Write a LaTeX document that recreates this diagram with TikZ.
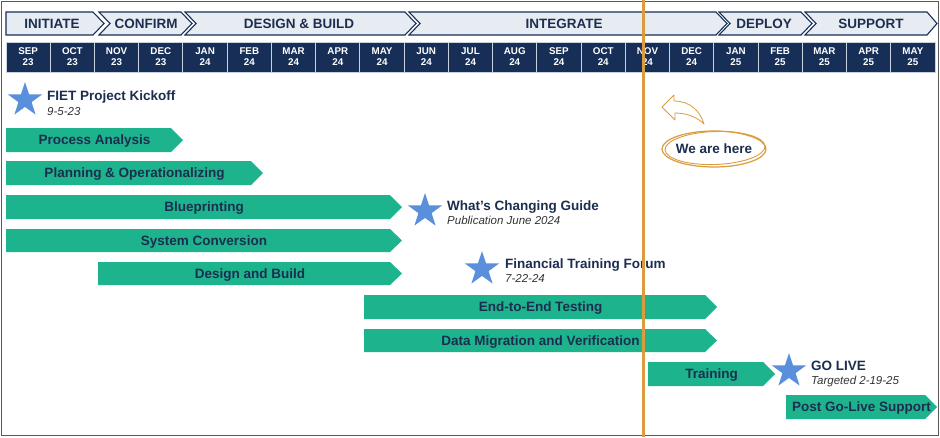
\documentclass[tikz,border=0pt]{standalone}
\usepackage{fontspec}
\setmainfont{Liberation Sans}
\usetikzlibrary{shapes.geometric}
\definecolor{navy}{HTML}{172F57}
\definecolor{txtnavy}{HTML}{1C2E4F}
\definecolor{barg}{HTML}{1DB38C}
\definecolor{starb}{HTML}{5A8FDB}
\definecolor{orng}{HTML}{DB9B3F}
\definecolor{chevfill}{HTML}{E7ECF3}
\definecolor{sepc}{HTML}{C9D3E0}
\definecolor{subgray}{HTML}{333333}
\newcommand\gbar[6]{% name, L, R, top, bottom, text
  \fill[barg] (#2,#4) -- ({#3-12},#4) -- (#3,{(#4+#5)/2}) -- ({#3-12},#5) -- (#2,#5) -- cycle;
  \node[bartext] (#1) at ({(#2+#3)/2},{(#4+#5)/2}) {#6};}
\begin{document}
\begin{tikzpicture}[x=1pt,y=-1pt,
  chevst/.style={fill=chevfill,draw=navy,line width=1.1pt,line join=miter},
  phase/.style={font=\bfseries\fontsize{13.5}{15}\selectfont,text=txtnavy,inner sep=0,text height=9.7pt,text depth=0pt},
  month/.style={fill=navy,draw=sepc,line width=1pt,minimum width=44.238pt,minimum height=30pt,
    inner sep=0,align=center,text=white,font=\bfseries\fontsize{9.8}{11}\selectfont},
  bartext/.style={font=\bfseries\fontsize{13.5}{15}\selectfont,text=txtnavy,inner sep=0,text height=9.7pt,text depth=0pt},
  mstar/.style={star,star points=5,star point ratio=2.6,fill=starb,minimum size=36pt,inner sep=0},
  mtitle/.style={anchor=base west,inner sep=0,font=\bfseries\fontsize{13.5}{15}\selectfont,text=txtnavy},
  msub/.style={anchor=base west,inner sep=0,font=\itshape\fontsize{11.5}{13}\selectfont,text=subgray},
]
\useasboundingbox (0,0) rectangle (940,437);
\fill[white] (0,0) rectangle (940,437);
\draw[gray!70!black,line width=0.8pt] (1,1) rectangle (938.5,435.5);

% phase chevrons
\draw[chevst] (6,12) -- (93,12) -- (104,23.5) -- (93,35) -- (6,35) -- cycle;
\node[phase] (p1) at (52,23.5) {INITIATE};
\draw[chevst] (99,12) -- (181,12) -- (192,23.5) -- (181,35) -- (99,35) -- (110,23.5) -- cycle;
\node[phase] (p2) at (146,23.5) {CONFIRM};
\draw[chevst] (185,12) -- (405,12) -- (416,23.5) -- (405,35) -- (185,35) -- (196,23.5) -- cycle;
\node[phase] (p3) at (299,23.5) {DESIGN \& BUILD};
\draw[chevst] (409,12) -- (716,12) -- (727,23.5) -- (716,35) -- (409,35) -- (420,23.5) -- cycle;
\node[phase] (p4) at (564,23.5) {INTEGRATE};
\draw[chevst] (719,12) -- (801,12) -- (812,23.5) -- (801,35) -- (719,35) -- (730,23.5) -- cycle;
\node[phase] (p5) at (764,23.5) {DEPLOY};
\draw[chevst] (805,12) -- (927,12) -- (937,23.5) -- (927,35) -- (805,35) -- (816,23.5) -- cycle;
\node[phase] (p6) at (871,23.5) {SUPPORT};

% months
\foreach \m/\yy [count=\i from 0] in {SEP/23,OCT/23,NOV/23,DEC/23,JAN/24,FEB/24,MAR/24,APR/24,MAY/24,JUN/24,JUL/24,AUG/24,SEP/24,OCT/24,NOV/24,DEC/24,JAN/25,FEB/25,MAR/25,APR/25,MAY/25}
  \node[month] (m\i) at ({6+44.238*(\i+0.5)},57) {\m\\\yy};

% bars
\gbar{b1}{6}{183}{128}{152}{Process Analysis}
\gbar{b2}{6}{263}{161}{185}{Planning \& Operationalizing}
\gbar{b3}{6}{402}{195}{219}{Blueprinting}
\gbar{b4}{6}{402}{229}{252}{System Conversion}
\gbar{b5}{98}{402}{262}{285}{Design and Build}
\gbar{b6}{364}{717}{295}{319}{End-to-End Testing}
\gbar{b7}{364}{717}{329}{352}{Data Migration and Verification}
\gbar{b8}{648}{775}{362}{386}{Training}
\gbar{b9}{786}{937}{395}{419}{Post Go-Live Support}

% milestones
\node[mstar] (s1) at (25,100) {};
\node[mtitle] (t1) at (47,100) {FIET Project Kickoff};
\node[msub] (u1) at (47,115) {9-5-23};
\node[mstar] (s2) at (425,211) {};
\node[mtitle] (t2) at (447,210) {What’s Changing Guide};
\node[msub] (u2) at (447,224) {Publication June 2024};
\node[mstar] (s3) at (482,269) {};
\node[mtitle] (t3) at (505,268) {Financial Training Forum};
\node[msub] (u3) at (505,282) {7-22-24};
\node[mstar] (s4) at (789,371) {};
\node[mtitle] (t4) at (811,370) {GO LIVE};
\node[msub] (u4) at (811,384) {Targeted 2-19-25};

% we are here
\node[font=\bfseries\fontsize{13.5}{15}\selectfont,text=txtnavy,inner sep=0,text height=9.7pt,text depth=0pt] (here) at (714,149) {We are here};
\draw[orng,line width=1.2pt] (714,149) ellipse [x radius=52,y radius=18];
\draw[orng,line width=0.9pt,rotate around={2:(715,148)}] (715,148) ellipse [x radius=50,y radius=16.5];
\draw[orng,line width=0.8pt,line join=round,fill=white]
  (662,107) -- (674,95) -- (674,101) .. controls (690,101) and (700,111) .. (704,124)
  .. controls (698,118) and (688,113) .. (675,113) -- (675,120) -- cycle;

% now line
\coordinate (nowtop) at (643.5,0);
\coordinate (nowbot) at (643.5,437);
\draw[orng,line width=2.5pt] (nowtop) -- (nowbot);
\end{tikzpicture}
\end{document}
